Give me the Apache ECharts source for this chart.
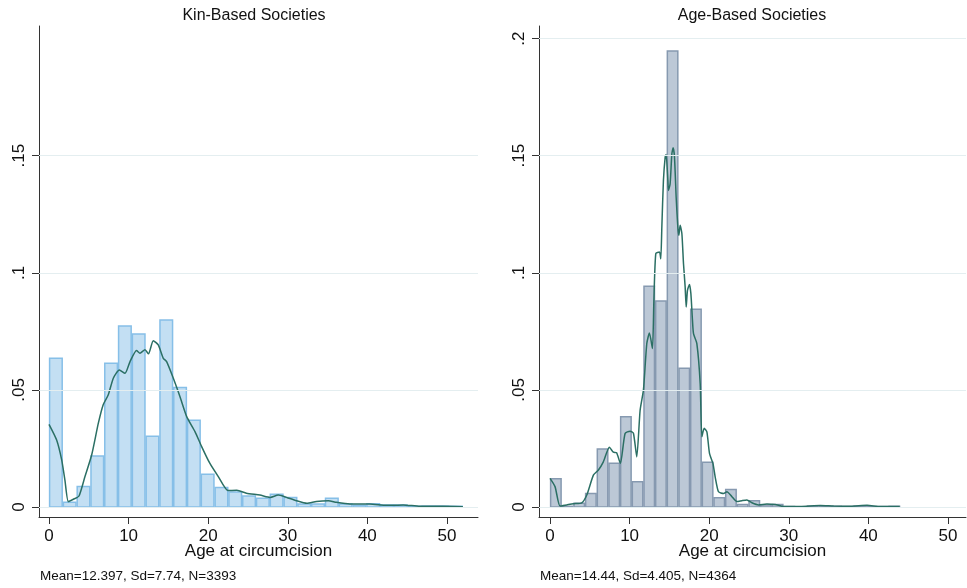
<!DOCTYPE html>
<html>
<head>
<meta charset="utf-8">
<script src="https://cdn.jsdelivr.net/npm/echarts@6/dist/echarts.min.js"></script>
<style>html,body{margin:0;padding:0;background:#fff}#c{width:967px;height:588px}</style>
</head>
<body>
<div id="c"></div>
<script>
// ---- data ----
const panelTitles = ['Kin-Based Societies', 'Age-Based Societies'];
const xAxisTitle = 'Age at circumcision';
const panelNotes = ['Mean=12.397, Sd=7.74, N=3393', 'Mean=14.44, Sd=4.405, N=4364'];
const xTicks = [0, 10, 20, 30, 40, 50];
const yTicksKin = [0, 0.05, 0.1, 0.15];
const yTicksAge = [0, 0.05, 0.1, 0.15, 0.2];
const yTickLabels = {0: '0', 0.05: '.05', 0.1: '.1', 0.15: '.15', 0.2: '.2'};

// histogram (density) per bin, 30 bins starting at 0
const kinBinWidth = 52 / 30;
const kinDensity = [0.0635, 0.0020, 0.0088, 0.0218, 0.0614, 0.0773, 0.0739, 0.0302, 0.0799, 0.0510,
  0.0370, 0.0140, 0.0083, 0.0064, 0.0047, 0.0037, 0.0054, 0.0041, 0.0013, 0.0013,
  0.0037, 0.0013, 0.0007, 0.0014, 0.0009, 0.0009, 0.0003, 0.0004, 0.0004, 0.0003];
const ageBinWidth = 44 / 30;
const ageDensity = [0.0121, 0.0003, 0.0016, 0.0058, 0.0248, 0.0187, 0.0385, 0.0108, 0.0943, 0.0880,
  0.1947, 0.0593, 0.0844, 0.0191, 0.0040, 0.0075, 0.0011, 0.0027, 0.0009, 0.0011,
  0.0002, 0.0001, 0.0004, 0.0003, 0.0003, 0.0002, 0.0004, 0.0002, 0.0002, 0.0003];

// kernel density curves [age, density]
const kinKernel = [[0, 0.0353], [0.96, 0.0286], [1.6, 0.020], [2.0, 0.0115], [2.43, 0.0023], [3.06, 0.0033],
  [3.77, 0.0047], [4.52, 0.013], [5.36, 0.0222], [6.2, 0.0358], [6.8, 0.0436], [7.45, 0.0479],
  [8.08, 0.055], [8.84, 0.0585], [9.55, 0.0571], [10.18, 0.0621], [11.0, 0.0668], [11.43, 0.0657],
  [12.06, 0.0671], [12.5, 0.0654], [13.1, 0.071], [13.73, 0.0692], [14.36, 0.0635], [14.78, 0.0621],
  [15.62, 0.055], [16.46, 0.0471], [17.3, 0.0386], [18.34, 0.0322], [19.18, 0.0258], [20.2, 0.0187],
  [21.27, 0.013], [22.5, 0.007], [23.6, 0.0072], [24.8, 0.0059], [26.5, 0.0051], [27.8, 0.0041],
  [28.8, 0.0051], [29.6, 0.0044], [31.1, 0.0027], [32.4, 0.0016], [33.6, 0.0024], [35.1, 0.0027],
  [36.1, 0.002], [37.8, 0.0013], [40.3, 0.0013], [42.4, 0.0007], [44.5, 0.0009], [46.6, 0.0003],
  [49.5, 0.0003], [52, 0.0001]];
const ageKernel = [[0, 0.0122], [0.63, 0.0087], [1.26, 0.0004], [2.1, 0.0009], [2.93, 0.0014], [3.99, 0.0018],
  [4.62, 0.0051], [5.45, 0.0136], [6.08, 0.0158], [6.7, 0.0193], [7.46, 0.0255], [7.96, 0.0234],
  [8.36, 0.0232], [8.84, 0.0186], [9.43, 0.0314], [10.06, 0.0324], [10.48, 0.0315], [10.9, 0.0214],
  [11.32, 0.0413], [11.74, 0.05], [12.16, 0.0698], [12.49, 0.0743], [12.87, 0.0677], [13.05, 0.088],
  [13.29, 0.1082], [13.75, 0.1089], [13.92, 0.106], [14.05, 0.1195], [14.25, 0.1394], [14.47, 0.1494],
  [14.59, 0.1505], [14.81, 0.1394], [14.88, 0.1352], [15.09, 0.138], [15.31, 0.1508], [15.47, 0.1534],
  [15.64, 0.1494], [15.85, 0.1323], [16.06, 0.1195], [16.19, 0.116], [16.35, 0.1203], [16.57, 0.1167],
  [16.77, 0.104], [16.98, 0.094], [17.11, 0.0854], [17.27, 0.0925], [17.52, 0.095], [17.7, 0.0911],
  [17.9, 0.0797], [18.03, 0.074], [18.45, 0.0698], [18.87, 0.0527], [19.08, 0.03], [19.37, 0.0336],
  [19.71, 0.0321], [20.04, 0.0229], [20.47, 0.0186], [20.75, 0.0129], [21.17, 0.0065], [21.8, 0.0058],
  [22.23, 0.0065], [22.86, 0.0044], [23.48, 0.0023], [24.11, 0.0027], [24.74, 0.003], [25.37, 0.0018],
  [26.2, 0.0009], [27.26, 0.0013], [28.3, 0.0011], [29.35, 0.0002], [31.45, 0.0002], [33.96, 0.0006],
  [35.64, 0.0004], [37.74, 0.0003], [39.84, 0.0007], [41.5, 0.0002], [43.94, 0.0002]];

// ---- build ----
const FONT = '"Liberation Sans", Arial, Helvetica, sans-serif';
const chart = echarts.init(document.getElementById('c'), null, {renderer: 'canvas'});

function bins(dens, w) {
  return dens.map((d, i) => [i * w, (i + 1) * w, d]);
}
function barSeries(idx, data, fill, stroke) {
  return {
    type: 'custom', xAxisIndex: idx, yAxisIndex: idx, z: 2,
    encode: {x: [0, 1], y: 2},
    data: data,
    renderItem: function (params, api) {
      const p0 = api.coord([api.value(0), api.value(2)]);
      const p1 = api.coord([api.value(1), 0]);
      return {type: 'rect', shape: {x: p0[0] + 0.6, y: p0[1], width: p1[0] - p0[0] - 1.2, height: p1[1] - p0[1]},
        style: {fill: fill, stroke: stroke, lineWidth: 1.5}};
    }
  };
}
function gridSeries(idx, ticks) {
  return {
    type: 'line', xAxisIndex: idx, yAxisIndex: idx, z: 0, data: [], silent: true,
    markLine: {silent: true, symbol: ['none', 'none'], label: {show: false}, animation: false,
      lineStyle: {color: '#e4eef0', width: 1, type: 'solid'},
      data: ticks.map(v => ({yAxis: v}))}
  };
}
function lineSeries(idx, data) {
  return {type: 'line', xAxisIndex: idx, yAxisIndex: idx, z: 3, data: data, showSymbol: false, smooth: 0.2,
    lineStyle: {color: '#2b6f64', width: 1.5}, animation: false};
}
function xAx(idx, min, max) {
  return {
    type: 'value', gridIndex: idx, min: min, max: max,
    axisLine: {show: true, onZero: false, lineStyle: {color: '#333', width: 1}},
    axisTick: {show: true, length: 7, customValues: xTicks, lineStyle: {color: '#333'}},
    axisLabel: {customValues: xTicks, color: '#111', fontSize: 17, fontFamily: FONT, margin: 11},
    splitLine: {show: false},
    name: xAxisTitle, nameLocation: 'middle', nameGap: 26, nameMoveOverlap: false,
    nameTextStyle: {color: '#111', fontSize: 17, fontFamily: FONT, verticalAlign: 'top'}
  };
}
function yAx(idx, ticks) {
  return {
    type: 'value', gridIndex: idx, min: -0.00427, max: 0.2054,
    axisLine: {show: true, onZero: false, lineStyle: {color: '#333', width: 1}},
    axisTick: {show: true, length: 7, customValues: ticks, lineStyle: {color: '#333'}},
    axisLabel: {customValues: ticks, rotate: 90, color: '#111', fontSize: 17, fontFamily: FONT, margin: 11,
      formatter: v => yTickLabels[Math.round(v * 100) / 100] !== undefined ? yTickLabels[Math.round(v * 100) / 100] : ''},
    splitLine: {show: false}
  };
}

const option = {
  animation: false,
  backgroundColor: '#ffffff',
  grid: [
    {left: 39, top: 26, width: 439, height: 491},
    {left: 539, top: 26, width: 427, height: 491}
  ],
  xAxis: [xAx(0, -1.256, 53.9), xAx(1, -1.385, 52.27)],
  yAxis: [yAx(0, yTicksKin), yAx(1, yTicksAge)],
  series: [
    gridSeries(0, yTicksKin),
    gridSeries(1, yTicksAge),
    barSeries(0, bins(kinDensity, kinBinWidth), '#c3dff3', '#86bfe8'),
    barSeries(1, bins(ageDensity, ageBinWidth), '#bcc8d6', '#8699b0'),
    lineSeries(0, kinKernel),
    lineSeries(1, ageKernel)
  ],
  graphic: [
    {type: 'text', x: 254, y: 16, style: {text: panelTitles[0], fill: '#111', font: '16px ' + FONT, align: 'center', verticalAlign: 'middle'}},
    {type: 'text', x: 752, y: 16, style: {text: panelTitles[1], fill: '#111', font: '16px ' + FONT, align: 'center', verticalAlign: 'middle'}},
    {type: 'text', x: 40, y: 576, style: {text: panelNotes[0], fill: '#111', font: '13.5px ' + FONT, align: 'left', verticalAlign: 'middle'}},
    {type: 'text', x: 540, y: 576, style: {text: panelNotes[1], fill: '#111', font: '13.5px ' + FONT, align: 'left', verticalAlign: 'middle'}}
  ]
};
chart.setOption(option);
</script>
</body>
</html>
